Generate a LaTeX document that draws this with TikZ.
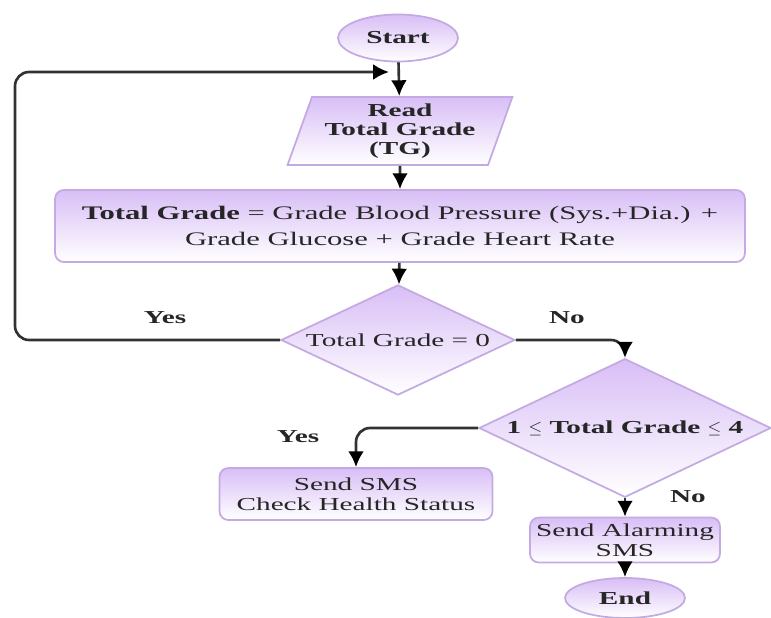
\documentclass[tikz,border=0pt]{standalone}
\usepackage{fontspec}
\setmainfont{Liberation Serif}[FakeStretch=1.6]
\usetikzlibrary{shapes.geometric, arrows.meta}
\definecolor{lav}{RGB}{216,190,246}
\definecolor{lavline}{RGB}{196,170,226}
\definecolor{arrowgray}{RGB}{50,50,50}
\tikzset{
  box/.style={draw=lavline, line width=1pt, top color=lav, bottom color=white,
    text=black!85, align=center, inner sep=1pt,
    font=\fontsize{10.4}{11.5}\selectfont},
  term/.style={box, ellipse, font=\fontsize{10.4}{11.5}\selectfont\bfseries},
  io/.style={box, trapezium, trapezium left angle=70, trapezium right angle=110,
    trapezium stretches=true, font=\fontsize{10.4}{11}\selectfont\bfseries},
  proc/.style={box, rectangle, rounded corners=5pt},
  decision/.style={box, diamond, aspect=2},
  flow/.style={draw=arrowgray, line width=1.5pt, -{Latex[length=9pt,width=9pt,color=black]}},
  answer/.style={font=\fontsize{10.4}{11.5}\selectfont\bfseries, text=black!85}
}
\begin{document}
\begin{tikzpicture}[x=0.02cm, y=-0.02cm]
\useasboundingbox (0,0) rectangle (771,618);
\node [term, minimum width=2.4cm, minimum height=0.94cm] (start) at (398,38) {Start};
\node [io, minimum width=4.5cm, minimum height=1.36cm] (read) at (400,131) {Read\\Total Grade\\(TG)};
\node [proc, minimum width=13.8cm, minimum height=1.44cm, font=\fontsize{10.9}{15}\selectfont] (total) at (400,226)
  {\textbf{Total Grade} = Grade Blood Pressure (Sys.+Dia.) +\\Grade Glucose + Grade Heart Rate};
\node [decision, minimum width=4.68cm, minimum height=2.2cm] (zero) at (398,340) {Total Grade = 0};
\node [decision, minimum width=5.84cm, minimum height=2.62cm] (range) at (625,428)
  {\textbf{1} $\leq$ \textbf{Total Grade} $\leq$ \textbf{4}};
\node [proc, minimum width=5.46cm, minimum height=1.04cm] (sms) at (356,494) {Send SMS\\Check Health Status};
\node [proc, minimum width=3.8cm, minimum height=0.9cm] (alarm) at (625,540) {Send Alarming\\SMS};
\node [term, minimum width=2.4cm, minimum height=0.8cm] (stop) at (625,598) {End};
\coordinate (loopin) at (389,72);
% answers
\node [answer] (yes1) at (165,318) {Yes};
\node [answer] (no1) at (567,318) {No};
\node [answer] (yes2) at (298,437) {Yes};
\node [answer] (no2) at (688,497) {No};
% connectors
\draw [flow] (start) -- (read);
\draw [flow] (read) -- (total);
\draw [flow] (total) -- (zero);
\draw [flow, rounded corners=8pt] (zero.west) -| (15,72) -- (loopin);
\draw [flow, rounded corners=8pt] (zero.east) -| (range.north);
\draw [flow, rounded corners=8pt] (range.west) -| (sms.north);
\draw [flow] (range) -- (alarm);
\draw [flow] (alarm) -- (stop);
\end{tikzpicture}
\end{document}
